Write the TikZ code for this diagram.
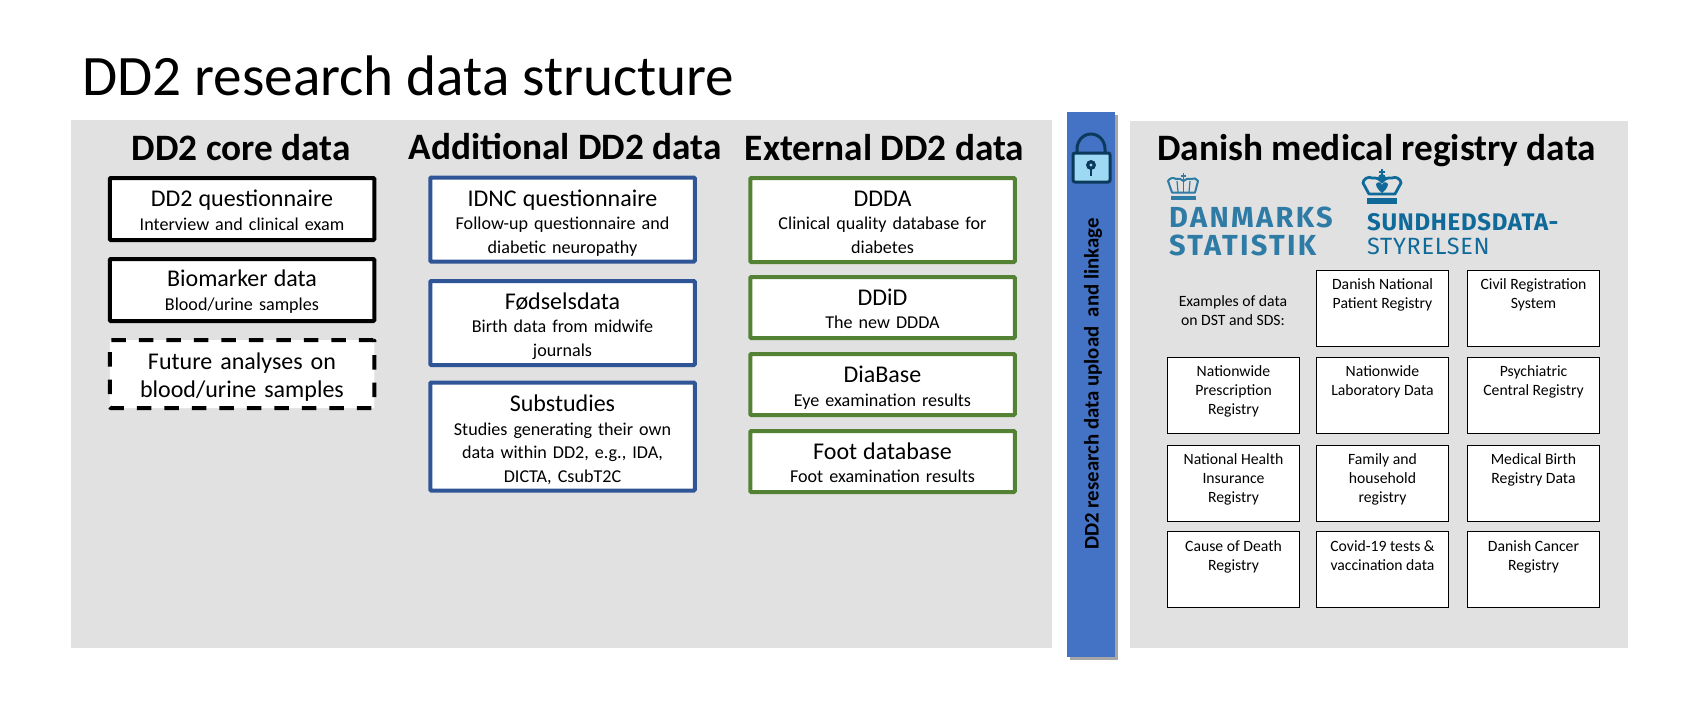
\documentclass[tikz,border=0pt]{standalone}
\usepackage{fontspec}
\setmainfont{Carlito}
\newfontfamily\logofont[LetterSpace=8]{Fira Sans}
\newfontfamily\logofontb[LetterSpace=3]{Fira Sans}
\usetikzlibrary{shadows}
\definecolor{panelgray}{HTML}{E1E1E1}
\definecolor{barblue}{HTML}{4472C4}
\definecolor{addblue}{HTML}{2F5597}
\definecolor{extgreen}{HTML}{548235}
\definecolor{locknavy}{HTML}{0B3A5C}
\definecolor{logteal}{HTML}{2E7BA6}
\definecolor{logblue}{HTML}{0F6A9A}
\definecolor{lockblue}{HTML}{9DD9F3}
\tikzset{
 panel/.style={fill=panelgray,inner sep=0pt},
 head/.style={font=\fontsize{37.3}{42}\selectfont\bfseries,inner sep=0pt},
 databox/.style={draw,fill=white,line width=4pt,align=center,inner sep=0pt,text width=264.5pt,
   rounded corners=1pt,font=\fontsize{18.1}{23.5}\selectfont},
 corebox/.style={databox,draw=black},
 addbox/.style={databox,draw=addblue},
 extbox/.style={databox,draw=extgreen},
 regbox/.style={draw=black,fill=white,line width=1.2pt,minimum width=132pt,minimum height=76pt,inner sep=0pt,
   anchor=north},
 regtext/.style={anchor=north,align=center,inner sep=0pt,font=\fontsize{15.7}{19}\selectfont},
 logotext/.style={anchor=west,inner sep=0pt}
}
\newcommand{\bigline}[2][0.5]{{\fontsize{24}{29}\selectfont\rule{0pt}{\dimexpr 18pt+#1pt*2\relax}#2}}
\begin{document}
\begin{tikzpicture}[x=1pt,y=-1pt]
\useasboundingbox (0,0) rectangle (1701,720);
\node[anchor=west,inner sep=0pt,font=\fontsize{57.2}{62}\selectfont] (title) at (82,76) {DD2 research data structure};
% panels
\node[panel,minimum width=981pt,minimum height=528pt,anchor=north west] (left) at (71,120) {};
\node[panel,minimum width=498pt,minimum height=527pt,anchor=north west] (right) at (1130,121) {};
\node[fill=barblue,minimum width=48pt,minimum height=545pt,anchor=north west,inner sep=0pt,
  drop shadow={shadow xshift=3pt,shadow yshift=-3pt,opacity=.35,fill=black}] (bar) at (1067,112) {};
\node[rotate=90,inner sep=0pt,font=\fontsize{20.8}{24}\selectfont\bfseries] (barlabel) at (1093,384) {DD2 research data upload\ \ and linkage};
% lock
\draw[locknavy,line width=3pt] (1077,153) -- (1077,149) arc (180:360:14 and 15) -- (1105,153);
\draw[locknavy,fill=lockblue,line width=3pt,rounded corners=2pt] (1073,153) rectangle (1110,182);
\fill[locknavy] (1091,165) circle (5pt);
\draw[locknavy,line width=2.4pt] (1091,165) -- (1091,176);
\fill[lockblue] (1091,165) circle (1.6pt);
% headings
\node[head] (corehead) at (241.4,147.5) {DD2 core data};
\node[head] (addhead) at (565,147) {Additional DD2 data};
\node[head] (exthead) at (884.5,147.5) {External DD2 data};
\node[head] (reghead) at (1376.7,150.5) {Danish medical registry data};
% core
\node[corebox,minimum height=62pt] (quest) at (242,209) {\bigline{DD2 questionnaire}\\Interview and clinical exam};
\node[corebox,minimum height=62pt] (biom) at (242,290) {\bigline[1]{Biomarker data}\\Blood/urine samples};
\node[corebox,dashed,dash pattern=on 14.5pt off 13pt,minimum height=68pt,font=\fontsize{24}{28}\selectfont] (future) at (242,374) {\rule{0pt}{23pt}Future analyses on\\blood/urine samples};
% additional
\node[addbox,minimum height=84pt] (idnc) at (562.5,219.5) {\bigline[2.5]{IDNC questionnaire}\\Follow-up questionnaire and\\diabetic neuropathy};
\node[addbox,minimum height=84pt] (birth) at (562.5,323) {\bigline[2.5]{Fødselsdata}\\Birth data from midwife\\journals};
\node[addbox,minimum height=108pt] (sub) at (562.5,436.5) {\bigline[2.5]{Substudies}\\Studies generating their own\\data within DD2, e.g., IDA,\\DICTA, CsubT2C};
% external
\node[extbox,minimum height=84pt] (ddda) at (882.5,220) {\bigline[1]{DDDA}\\Clinical quality database for\\diabetes};
\node[extbox,minimum height=61pt] (ddid) at (882.5,307.5) {\bigline{DDiD}\\The new DDDA};
\node[extbox,minimum height=61pt] (diabase) at (882.5,384.5) {\bigline[2.5]{DiaBase}\\Eye examination results};
\node[extbox,minimum height=61pt] (foot) at (882.5,461.5) {\bigline{Foot database}\\Foot examination results};
% logos
\begin{scope}[logteal]
\fill (1171,196) rectangle (1196,200);
\draw[line width=2pt,line join=round] (1172,192.5) -- (1168,181) to[bend left=50] (1176,179) to[bend left=30] (1183.5,181) to[bend left=30] (1191,179) to[bend left=50] (1198,181) -- (1195,192.5) -- cycle;
\draw[line width=1.4pt] (1183.5,173) -- (1183.5,192);
\draw[line width=1.4pt] (1181,176) -- (1186,176);
\draw[line width=1.2pt] (1177,181) -- (1178,192);
\draw[line width=1.2pt] (1190,181) -- (1189,192);
\end{scope}
\node[logotext,text=logteal,font=\logofont\fontsize{29}{29}\selectfont\bfseries] (dst1) at (1169,217) {DANMARKS};
\node[logotext,text=logteal,font=\logofont\fontsize{29}{29}\selectfont\bfseries] (dst2) at (1169,245.5) {STATISTIK};
\begin{scope}[logblue]
\fill (1367,198) rectangle (1397,204);
\draw[line width=2.8pt,line join=round] (1369,194) -- (1363,183) to[bend left=60] (1372,178) to[bend left=30] (1382,182) to[bend left=30] (1392,178) to[bend left=60] (1401,183) -- (1395,194) -- cycle;
\fill (1382,178) circle (4pt);
\fill (1376,184) .. controls (1378,181) and (1381,182) .. (1382,185) .. controls (1383,182) and (1386,181) .. (1388,184) .. controls (1388,188) and (1384,191) .. (1382,193) .. controls (1380,191) and (1376,188) .. (1376,184);
\draw[line width=1.4pt] (1382,169) -- (1382,176);
\draw[line width=1.4pt] (1379,172) -- (1385,172);
\end{scope}
\node[logotext,text=logblue,font=\logofontb\fontsize{24}{24}\selectfont\bfseries] (sds1) at (1367,222.5) {SUNDHEDSDATA-};
\node[logotext,text=logblue,font=\logofontb\fontsize{23.5}{24}\selectfont] (sds2) at (1367,246.5) {STYRELSEN};
% registries
\node[regtext] (examples) at (1233,295.5) {Examples of data\\on DST and SDS:};
\node[regbox] (r12) at (1382.5,270) {};
\node[regtext] (t12) at (1382.5,278.5) {Danish National\\Patient Registry};
\node[regbox] (r13) at (1533.5,270) {};
\node[regtext] (t13) at (1533.5,278.5) {Civil Registration\\System};
\node[regbox] (r21) at (1233.5,357) {};
\node[regtext] (t21) at (1233.5,365.5) {Nationwide\\Prescription\\Registry};
\node[regbox] (r22) at (1382.5,357) {};
\node[regtext] (t22) at (1382.5,365.5) {Nationwide\\Laboratory Data};
\node[regbox] (r23) at (1533.5,357) {};
\node[regtext] (t23) at (1533.5,365.5) {Psychiatric\\Central Registry};
\node[regbox] (r31) at (1233.5,444.5) {};
\node[regtext] (t31) at (1233.5,453.5) {National Health\\Insurance\\Registry};
\node[regbox] (r32) at (1382.5,444.5) {};
\node[regtext] (t32) at (1382.5,453.5) {Family and\\household\\registry};
\node[regbox] (r33) at (1533.5,444.5) {};
\node[regtext] (t33) at (1533.5,453.5) {Medical Birth\\Registry Data};
\node[regbox] (r41) at (1233.5,530.5) {};
\node[regtext] (t41) at (1233.5,540) {Cause of Death\\Registry};
\node[regbox] (r42) at (1382.5,530.5) {};
\node[regtext] (t42) at (1382.5,540) {Covid-19 tests \&\\vaccination data};
\node[regbox] (r43) at (1533.5,530.5) {};
\node[regtext] (t43) at (1533.5,540) {Danish Cancer\\Registry};
\end{tikzpicture}
\end{document}
